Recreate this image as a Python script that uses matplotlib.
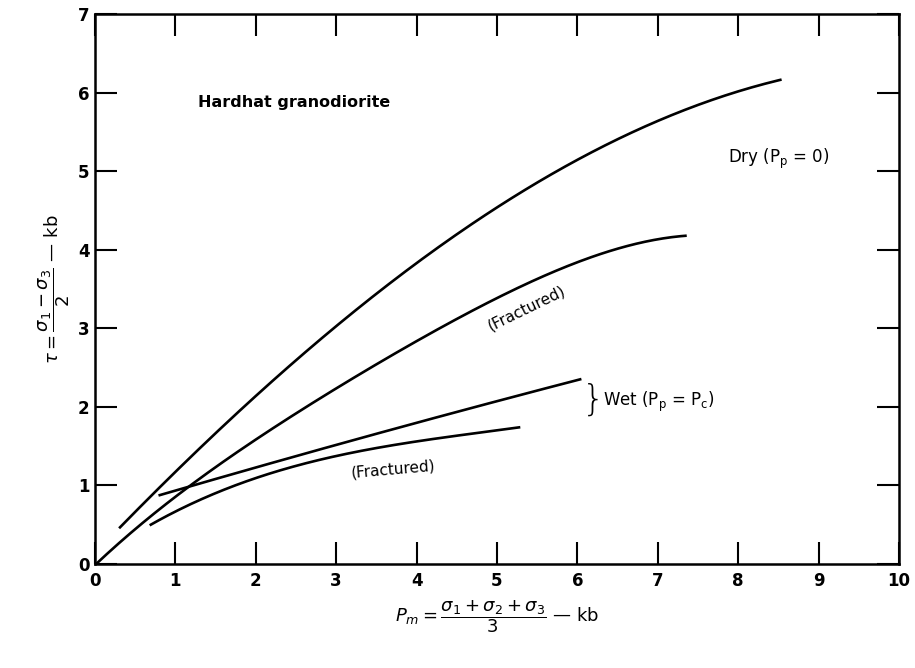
import numpy as np
import matplotlib.pyplot as plt

# curves (x = P_m in kb, y = tau in kb)
dry_x = [0.30, 1.18, 2.11, 3.17, 4.42, 5.53, 6.36, 7.40, 8.54]
dry_y = [0.45, 1.36, 2.23, 3.19, 4.12, 4.86, 5.35, 5.81, 6.16]

dry_frac_x = [0.0, 0.64, 1.18, 1.91, 2.92, 4.0, 4.83, 5.53, 6.36, 7.36]
dry_frac_y = [0.0, 0.54, 0.99, 1.52, 2.23, 2.81, 3.27, 3.65, 3.99, 4.17]

wet_x = [0.79, 1.31, 2.0, 3.05, 4.04, 5.0, 6.05]
wet_y = [0.87, 1.03, 1.23, 1.52, 1.81, 2.08, 2.35]

wet_frac_x = [0.68, 1.18, 1.93, 3.05, 4.04, 5.29]
wet_frac_y = [0.49, 0.76, 1.07, 1.38, 1.57, 1.74]

x_ticks = list(range(0, 11))
y_ticks = list(range(0, 8))


def smooth(xs, ys, deg=3, n=200):
    # least-squares smoothing of the read-off points (hand-drawn curves)
    p = np.polyfit(xs, ys, deg)
    xx = np.linspace(xs[0], xs[-1], n)
    return xx, np.polyval(p, xx)


fig = plt.figure(figsize=(9.15, 6.68), dpi=100)
ax = fig.add_axes([0.1038, 0.1557, 0.8787, 0.8234])

for xs, ys, d in [(dry_x, dry_y, 3), (dry_frac_x, dry_frac_y, 4),
                  (wet_x, wet_y, 2), (wet_frac_x, wet_frac_y, 3)]:
    xx, yy = smooth(xs, ys, d)
    ax.plot(xx, yy, color='black', lw=1.9, solid_capstyle='butt')

ax.set_xlim(0, 10)
ax.set_ylim(0, 7)
ax.set_xticks(x_ticks)
ax.set_yticks(y_ticks)
ax.set_xticklabels([str(t) for t in x_ticks])
ax.set_yticklabels([str(t) for t in y_ticks])
ax.tick_params(direction='in', length=16, width=1.5, top=True, right=True,
               labelsize=12, pad=6)
ax.tick_params(axis='y', pad=4)
for lab in ax.get_xticklabels() + ax.get_yticklabels():
    lab.set_fontweight('bold')
for s in ax.spines.values():
    s.set_linewidth(1.8)

# annotations
ax.text(1.28, 5.87, 'Hardhat granodiorite', fontsize=11.5, fontweight='bold',
        va='center', ha='left')
ax.text(7.87, 5.15, r'Dry (P$_{\mathrm{p}}$ = 0)', fontsize=12,
        va='center', ha='left')
ax.text(5.37, 3.26, '(Fractured)', fontsize=11, rotation=26,
        va='center', ha='center')
ax.text(3.71, 1.21, '(Fractured)', fontsize=11, rotation=5,
        va='center', ha='center')
ax.text(6.06, 2.09, '}', fontsize=26, va='center', ha='left',
        fontweight='light')
ax.text(6.32, 2.06, r'Wet (P$_{\mathrm{p}}$ = P$_{\mathrm{c}}$)', fontsize=12,
        va='center', ha='left')

ax.set_xlabel(r'$P_m = \dfrac{\sigma_1 + \sigma_2 + \sigma_3}{3}$ — kb',
              fontsize=13, labelpad=6)
ax.set_ylabel(r'$\tau = \dfrac{\sigma_1 - \sigma_3}{2}$ — kb',
              fontsize=13, labelpad=4)

fig.savefig('out.png', dpi=100)
